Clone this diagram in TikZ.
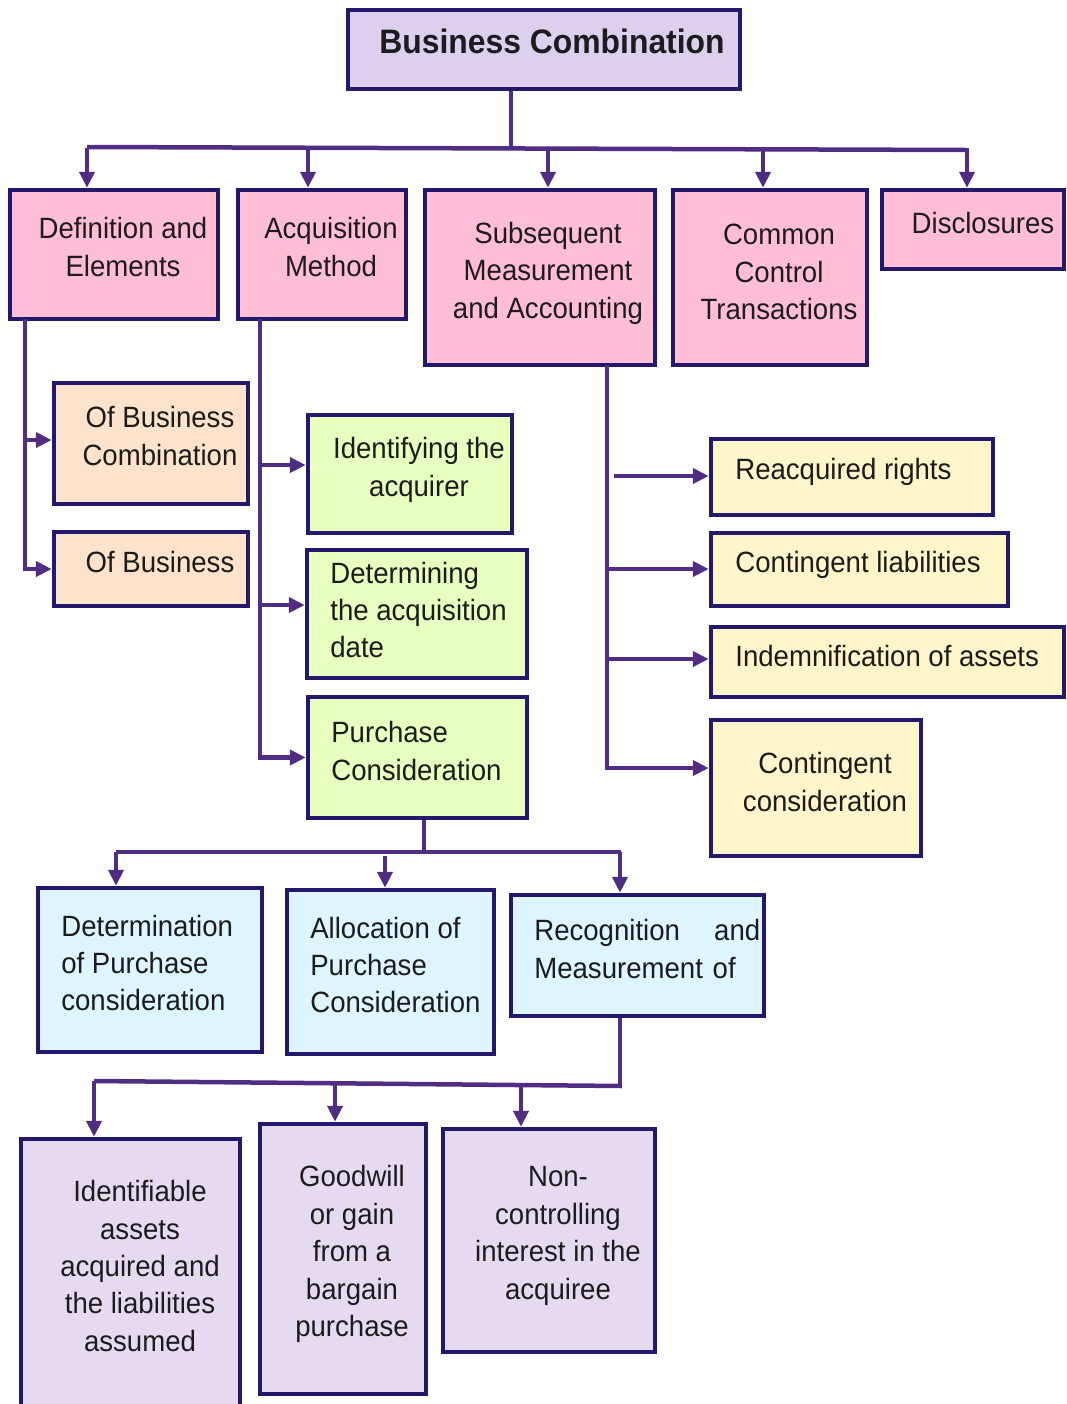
\documentclass[tikz,border=0pt]{standalone}
\usepackage{fontspec}
\setmainfont{Liberation Sans}[FakeStretch=0.94]
\usepackage{xcolor}
\usepackage{tikz}
\usetikzlibrary{arrows.meta, positioning, fit}
\definecolor{bcedge}{RGB}{36,24,108}
\definecolor{bclink}{RGB}{80,44,130}
\definecolor{bctext}{RGB}{28,28,28}
\definecolor{bctop}{RGB}{220,208,238}
\definecolor{bcpink}{RGB}{255,189,214}
\definecolor{bcpeach}{RGB}{253,226,204}
\definecolor{bcgreen}{RGB}{232,255,192}
\definecolor{bcyellow}{RGB}{255,245,202}
\definecolor{bcblue}{RGB}{222,244,255}
\definecolor{bclav}{RGB}{230,218,240}

\begin{document}
\begin{tikzpicture}[
  x=0.02cm, y=-0.02cm,
  every node/.style={font=\fontsize{16.7}{21.3}\selectfont, text=bctext},
  box/.style={rectangle, draw=bcedge, line width=0.09cm, inner sep=0pt, fill=#1},
  txt/.style={align=center, inner sep=0pt},
  ltxt/.style={align=left, anchor=west, inner sep=0pt},
  link/.style={draw=bclink, line width=0.09cm},
  arrow/.style={link, -{Triangle[width=0.3cm, length=0.32cm]}},
]
\useasboundingbox (0,0) rectangle (1067,1404);

% ── Top ──
\node[box=bctop, fit={(348,10) (740,89)}] (title) {};
\node[txt, font=\bfseries\fontsize{19.3}{23}\selectfont] (title-t) at (552,41) {Business Combination};

% ── First row ──
\node[box=bcpink, fit={(10,190) (218,319)}]  (def)  {};
\node[box=bcpink, fit={(238,190) (406,319)}] (acq)  {};
\node[box=bcpink, fit={(425,190) (655,365)}] (subs) {};
\node[box=bcpink, fit={(673,190) (867,365)}] (ccon) {};
\node[box=bcpink, fit={(882,190) (1064,269)}] (disc) {};
\node[txt] (def-t)  at (123,247) {Definition and\\Elements};
\node[txt] (acq-t)  at (331,247) {Acquisition\\Method};
\node[txt] (subs-t) at (548,273) {Subsequent\\Measurement\\and Accounting};
\node[txt] (ccon-t) at (779,272) {Common\\Control\\Transactions};
\node[txt] (disc-t) at (983,223) {Disclosures};

\coordinate (hub) at (511,148);
\draw[link] (hub |- title.south) -- (hub);
\draw[link] (87,147) -- (967,150);
\foreach \x/\b in {87/def, 308/acq, 548/subs, 763/ccon, 967/disc} {
  \coordinate (\b-in) at (\x,148);
  \draw[arrow] (\b-in) -- (\b-in |- \b.north);
}

% ── Definition branch ──
\node[box=bcpeach, fit={(54,383) (248,504)}] (obc) {};
\node[box=bcpeach, fit={(54,532) (248,606)}] (ob)  {};
\node[txt] (obc-t) at (160,436) {Of Business\\Combination};
\node[txt] (ob-t)  at (160,562) {Of Business};

\coordinate (def-out) at (25,319);
\draw[arrow] (def-out) |- (ob.west);
\draw[arrow] (def-out |- 0,440) -- (obc.west |- 0,440);

% ── Acquisition branch ──
\node[box=bcgreen, fit={(308,415) (512,533)}] (ident) {};
\node[box=bcgreen, fit={(307,550) (527,678)}] (dete)  {};
\node[box=bcgreen, fit={(308,697) (527,818)}] (purc)  {};
\node[txt]  (ident-t) at (419,470) {Identifying the\\acquirer};
\node[ltxt] (dete-t)  at (330,610) {Determining\\the acquisition\\date};
\node[ltxt] (purc-t)  at (331,751) {Purchase\\Consideration};

\coordinate (acq-out) at (260,319);
\coordinate (acq-j1) at (260,465);
\coordinate (acq-j2) at (260,605);
\draw[arrow] (acq-out) |- (purc.west);
\draw[arrow] (acq-j1) -- (acq-j1 -| ident.west);
\draw[arrow] (acq-j2) -- (acq-j2 -| dete.west);

% ── Subsequent measurement branch ──
\node[box=bcyellow, fit={(711,439) (993,515)}]  (reac)  {};
\node[box=bcyellow, fit={(711,533) (1008,606)}] (cliab) {};
\node[box=bcyellow, fit={(711,627) (1064,697)}] (indem) {};
\node[box=bcyellow, fit={(711,720) (921,856)}]  (ccons) {};
\node[ltxt] (reac-t)  at (735,472) {Reacquired rights};
\node[ltxt] (cliab-t) at (735,565) {Contingent liabilities};
\node[ltxt] (indem-t) at (735,656) {Indemnification of assets};
\node[txt]  (ccons-t) at (825,782) {Contingent\\consideration};

\coordinate (subs-out) at (607,365);
\coordinate (subs-j1) at (614,476);
\coordinate (subs-j2) at (607,569);
\coordinate (subs-j3) at (607,659);
\coordinate (subs-j4) at (607,768);
\draw[arrow] (subs-out) -- (subs-j4) -- (subs-j4 -| ccons.west);
\draw[arrow] (subs-j1) -- (subs-j1 -| reac.west);
\draw[arrow] (subs-j2) -- (subs-j2 -| cliab.west);
\draw[arrow] (subs-j3) -- (subs-j3 -| indem.west);

% ── Purchase consideration ──
\node[box=bcblue, fit={(38,888) (262,1052)}]  (detp) {};
\node[box=bcblue, fit={(287,890) (494,1054)}] (allo) {};
\node[box=bcblue, fit={(511,895) (764,1016)}] (reco) {};
\node[ltxt] (detp-t) at (61,963)  {Determination\\of Purchase\\consideration};
\node[ltxt] (allo-t) at (310,965) {Allocation of\\Purchase\\Consideration};
\node[ltxt, text width=4.52cm] (reco-t) at (534,949) {Recognition\hfill and\\Measurement of};

\coordinate (pc-hub) at (424,852);
\draw[link] (pc-hub |- purc.south) -- (pc-hub);
\draw[link] (116,852) -- (621,852);
\coordinate (detp-in) at (116,852);
\coordinate (allo-in) at (385,856);
\coordinate (reco-in) at (620,852);
\foreach \b in {detp, allo, reco}
  \draw[arrow] (\b-in) -- (\b-in |- \b.north);

% ── Recognition and measurement ──
\node[box=bclav, fit={(21,1139) (240,1420)}]  (idas) {};
\node[box=bclav, fit={(260,1124) (426,1394)}] (good) {};
\node[box=bclav, fit={(443,1129) (655,1352)}] (nonc) {};
\node[txt] (idas-t) at (140,1266) {Identifiable\\assets\\acquired and\\the liabilities\\assumed};
\node[txt] (good-t) at (352,1254) {Goodwill\\or gain\\from a\\bargain\\purchase};
\node[txt] (nonc-t) at (558,1236) {Non-\\controlling\\interest in the\\acquiree};

\coordinate (rm-hub) at (620,1086);
\draw[link] (rm-hub |- reco.south) -- (rm-hub);
\draw[link] (94,1081) -- (622,1086);
\coordinate (idas-in) at (94,1081);
\coordinate (good-in) at (335,1083);
\coordinate (nonc-in) at (521,1085);
\foreach \b in {idas, good, nonc}
  \draw[arrow] (\b-in) -- (\b-in |- \b.north);

\end{tikzpicture}
\end{document}
